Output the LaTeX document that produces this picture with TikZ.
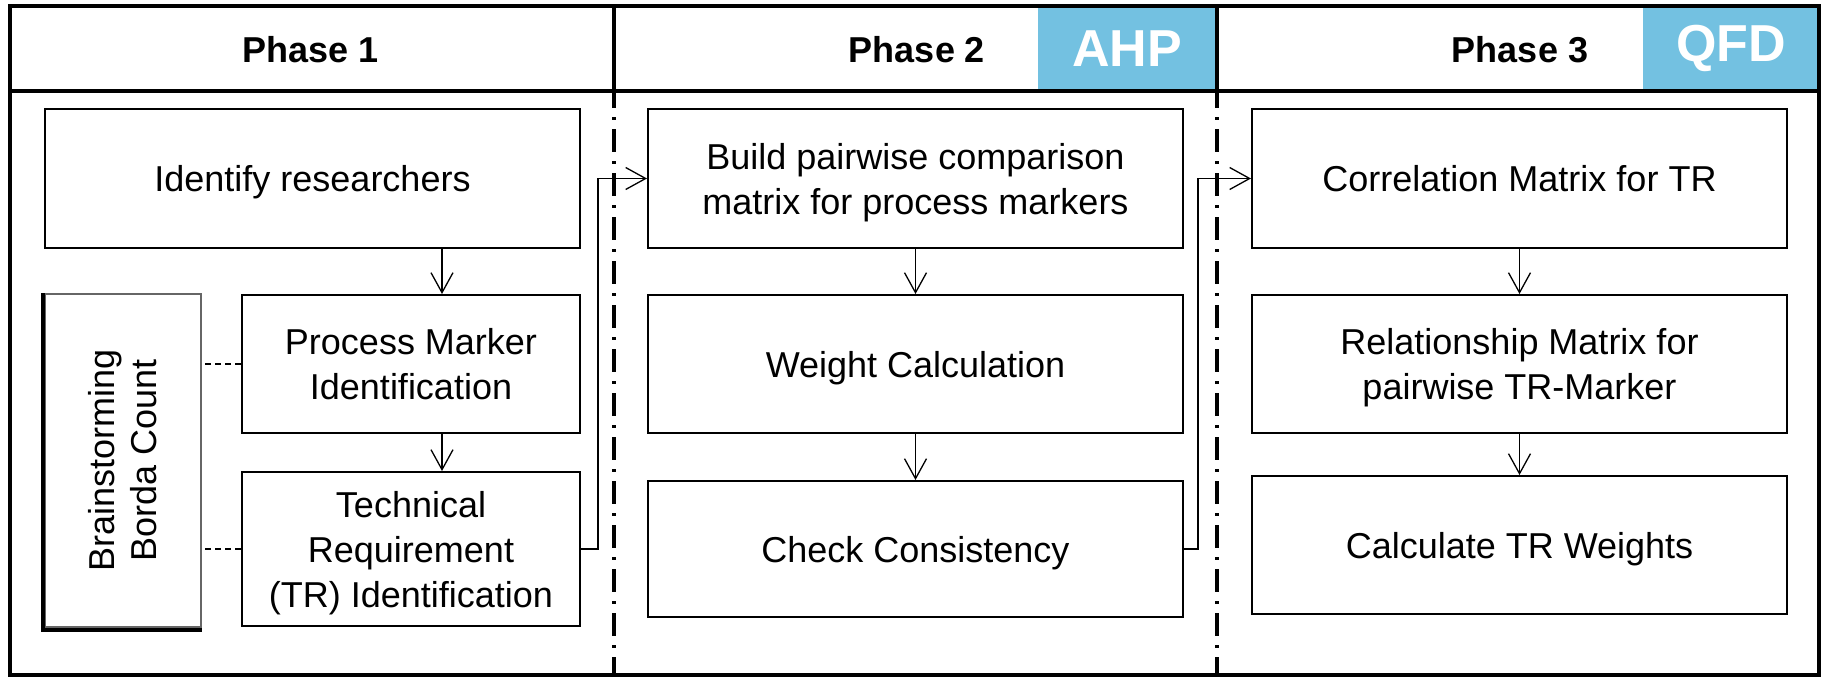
\documentclass[tikz,border=0pt]{standalone}
\usepackage{fontspec}
\setmainfont{Liberation Sans}
\usetikzlibrary{arrows.meta}
\definecolor{hdrblue}{RGB}{115,193,225}
\newcommand\mystrut{\rule[-9.5pt]{0pt}{45pt}}
\tikzset{
  stepbox/.style={draw, line width=2pt, font=\fontsize{36}{45}\selectfont, align=center, inner sep=0pt},
  hdrtext/.style={font=\bfseries\fontsize{36}{45}\selectfont, inner sep=0pt},
  tagbox/.style={fill=hdrblue, text=white, font=\bfseries\fontsize{52}{60}\selectfont, inner sep=0pt, minimum height=83pt},
  conn/.style={line width=1.3pt, -{Straight Barb[length=20pt,width=22pt]}},
  dashline/.style={line width=1.3pt, dash pattern=on 6pt off 4pt},
  frameline/.style={line width=3.5pt},
  divider/.style={line width=3.5pt, dash pattern=on 23pt off 9pt on 3pt off 9pt, dash phase=6pt},
}
\begin{document}
\begin{tikzpicture}[x=1pt,y=-1pt]
\useasboundingbox (0,0) rectangle (1823,677);
% header tags
\node[tagbox, minimum width=178pt] (ahp) at (1127,48.5) {AHP};
\node[tagbox, minimum width=176pt] (qfd) at (1731,48.5) {QFD};
% frame
\draw[frameline] (10,6) rectangle (1819,675);
\draw[frameline] (10,91) -- (1819,91);
\draw[frameline] (614,6) -- (614,91);
\draw[frameline] (1217,6) -- (1217,91);
\draw[divider] (614,91) -- (614,675);
\draw[divider] (1217,91) -- (1217,675);
% header texts
\node[hdrtext] (p1) at (311,50) {Phase 1};
\node[hdrtext] (p2) at (917,50) {Phase 2};
\node[hdrtext] (p3) at (1520,50) {Phase 3};
% phase 1
\node[stepbox, minimum width=535pt, minimum height=139pt] (id) at (312.5,178.5) {\mystrut Identify researchers};
\node[stepbox, minimum width=338pt, minimum height=138pt] (pm) at (411,364) {\mystrut Process Marker\\\mystrut Identification};
\node[stepbox, minimum width=338pt, minimum height=154pt] (tr) at (411,549) {\mystrut Technical\\\mystrut Requirement\\\mystrut (TR) Identification};
\node[draw=black!60, line width=2pt, minimum width=156pt, minimum height=333pt, inner sep=0pt] (bs) at (123,460.5) {};
\draw[line width=4pt] ([xshift=-1pt]bs.north west) -- ([xshift=-1pt,yshift=-2pt]bs.south west) -- ([yshift=-2pt]bs.south east);
\node[rotate=90, align=center, font=\fontsize{36}{42}\selectfont, inner sep=0pt] (bst) at (bs.center) {Brainstorming\\Borda Count};
% phase 2
\node[stepbox, minimum width=535pt, minimum height=139pt] (build) at (915.5,178.5) {\mystrut Build pairwise comparison\\\mystrut matrix for process markers};
\node[stepbox, minimum width=535pt, minimum height=138pt] (weight) at (915.5,364) {\mystrut Weight Calculation};
\node[stepbox, minimum width=535pt, minimum height=136pt] (check) at (915.5,549) {\mystrut Check Consistency};
% phase 3
\node[stepbox, minimum width=535pt, minimum height=139pt] (corr) at (1519.5,178.5) {\mystrut Correlation Matrix for TR};
\node[stepbox, minimum width=535pt, minimum height=138pt] (rel) at (1519.5,364) {\mystrut Relationship Matrix for\\\mystrut pairwise TR-Marker};
\node[stepbox, minimum width=535pt, minimum height=138pt] (calc) at (1519.5,545) {\mystrut Calculate TR Weights};
% connectors
\coordinate (ax) at (442,0);
\draw[conn] (id.south -| ax) -- (pm.north -| ax);
\draw[conn] (pm.south -| ax) -- (tr.north -| ax);
\draw[conn] (build) -- (weight);
\draw[conn] (weight) -- (check);
\draw[conn] (corr) -- (rel);
\draw[conn] (rel) -- (calc);
\draw[conn] (tr.east) -- ++(17,0) |- (build.west);
\draw[conn] (check.east) -- ++(14,0) |- (corr.west);
\draw[dashline] (pm.west) -- (pm.west -| bs.east);
\draw[dashline] (tr.west) -- (tr.west -| bs.east);
\end{tikzpicture}
\end{document}
